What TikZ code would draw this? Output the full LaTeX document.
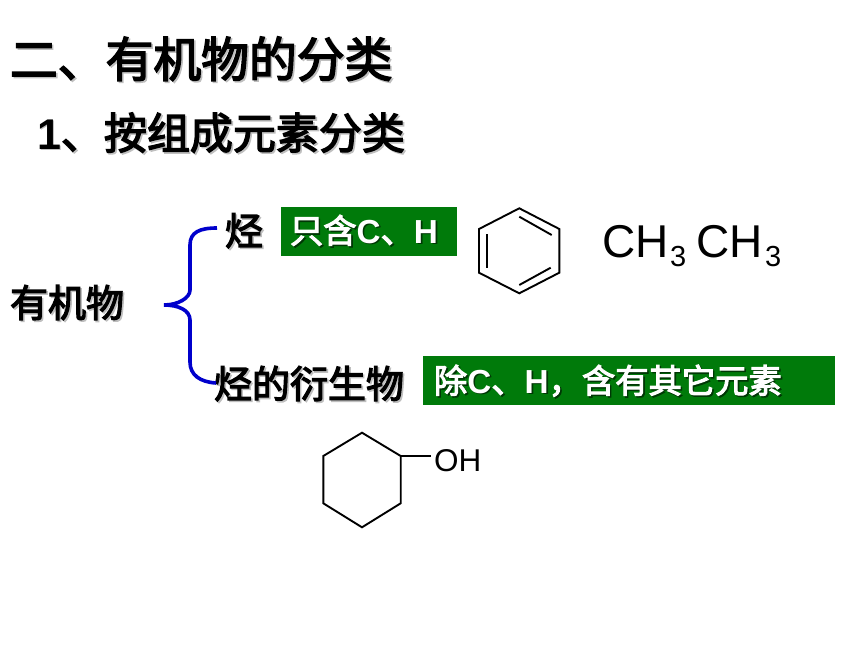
\documentclass[tikz,border=0pt]{standalone}
\usepackage{fontspec}
\setmainfont{Liberation Sans}
\newfontfamily\cjkbase{Noto Sans CJK SC}[FakeBold=3.2]
\newcommand{\cjk}{\cjkbase\mdseries}
\definecolor{boxgreen}{HTML}{007A0A}
\definecolor{bracec}{HTML}{0000CC}
\tikzset{
  txt/.style={inner sep=0pt,outer sep=0pt,anchor=base west},
  bondline/.style={draw=black,line width=1.9pt,line join=miter},
  greenbox/.style={fill=boxgreen,draw=none},
}
\newcommand{\mysize}[1]{\fontsize{#1}{#1}\selectfont}
% name, position, size, colour, shadow colour, text
\newcommand{\stext}[6]{%
  \node[txt,text=#5] (#1s) at ($(#2)+(1.6,1.6)$) {\mysize{#3}\bfseries #6};
  \node[txt,text=#4] (#1) at (#2) {\mysize{#3}\bfseries #6};
}
\usetikzlibrary{calc}
\begin{document}
\begin{tikzpicture}[x=1pt,y=-1pt]
\useasboundingbox (0,0) rectangle (860,645);
\fill[white] (0,0) rectangle (860,645);
\definecolor{shad}{gray}{0.75}
\stext{title}{10,77}{47.8}{black}{shad}{\cjk 二、有机物的分类}
\stext{sub1}{37,149}{43}{black}{shad}{1\cjk 、按组成元素分类}
\stext{youji}{10,317}{38}{black}{shad}{\cjk 有机物}
\stext{ting}{225,245}{38}{black}{shad}{\cjk 烃}
\stext{deriv}{214,398}{38}{black}{shad}{\cjk 烃的衍生物}
\fill[greenbox] (281,207) rectangle (457,256);
\fill[greenbox] (423,356) rectangle (835,405);
\stext{only}{290,243}{33.3}{white}{black!55!boxgreen}{{\cjk 只含}C{\cjk 、}H}
\stext{except}{434,393}{33.3}{white}{black!55!boxgreen}{{\cjk 除}C{\cjk 、}H{\cjk ，含有其它元素}}
% brace
\draw[bracec,line width=3.6pt] (217,228) .. controls (200,228) and (190,232) .. (190,245)
  -- (190,290) .. controls (190,298) and (178,305) .. (164,305)
  .. controls (178,305) and (190,310) .. (190,320)
  -- (190,362) .. controls (190,375) and (200,382) .. (216,383);
% benzene
\draw[bondline] (519.3,208.3) -- (559.3,229) -- (559.3,272.7) -- (519.3,293.3) -- (479,272.7) -- (479,229) -- cycle;
\draw[bondline] (519.3,216.7) -- (551.7,235);
\draw[bondline] (487.3,234.3) -- (487.3,268.3);
\draw[bondline] (519.3,285) -- (550.7,267.7);
% ethane text
\node[txt] (ch1) at (602,257) {\mysize{46}CH};
\node[txt] (sub3a) at (670,266) {\mysize{29}3};
\node[txt] (ch2) at (696,257) {\mysize{46}CH};
\node[txt] (sub3b) at (765,266) {\mysize{29}3};
% cyclohexanol
\node[txt] (oh) at (434,471) {\mysize{31.5}OH};
\draw[bondline] (362,432.7) -- (400.7,456) -- (400.7,503.3) -- (362,527.3) -- (323.3,503.3) -- (323.3,456) -- cycle;
\draw[bondline] (400.7,456) -- (430.7,456);
\end{tikzpicture}
\end{document}
